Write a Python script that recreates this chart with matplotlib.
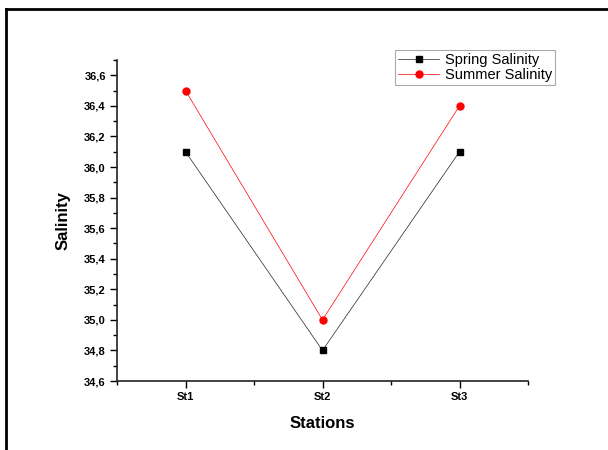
import matplotlib
matplotlib.use("Agg")
import matplotlib.pyplot as plt
from matplotlib.ticker import FuncFormatter, MultipleLocator, FixedLocator
from matplotlib.lines import Line2D

plt.rcParams['font.family'] = ['Liberation Sans', 'DejaVu Sans']

stations = ["St1", "St2", "St3"]
spring = [36.1, 34.8, 36.1]
summer = [36.5, 35.0, 36.4]

fig = plt.figure(figsize=(6.08, 4.5), dpi=100)
ax = fig.add_axes([117/608, 1-381/450, (528-117)/608, (381-60)/450])

x = list(range(1, len(stations)+1))
ax.plot(x, spring, color='#222222', lw=0.5, marker='s', ms=4.5, mfc='black', mec='black',
        label='Spring Salinity')
ax.plot(x, summer, color='#ff0000', lw=0.5, marker='o', ms=5, mfc='#ff0000', mec='#ff0000',
        label='Summer Salinity')

ax.set_xlim(0.5, 3.5)
ax.set_ylim(34.6, 36.7)
ax.set_xticks(x)
ax.set_xticklabels(stations, fontweight='bold', fontsize=8)
ax.xaxis.set_minor_locator(FixedLocator([0.5, 1.5, 2.5, 3.5]))
ax.yaxis.set_major_locator(MultipleLocator(0.2))
ax.yaxis.set_minor_locator(MultipleLocator(0.1))
ax.yaxis.set_major_formatter(FuncFormatter(lambda v, p: f"{v:.1f}".replace('.', ',')))
ax.tick_params(which='major', direction='out', length=5, width=1, pad=3)
ax.tick_params(which='minor', direction='out', length=3, width=1)
ax.tick_params(axis='y', labelsize=8)
ax.spines['top'].set_visible(False)
ax.spines['right'].set_visible(False)
for s in ['left', 'bottom']:
    ax.spines[s].set_linewidth(1.2)
    ax.spines[s].set_color('#222222')

ax.set_xlabel("Stations", fontsize=12, fontweight='bold', labelpad=10)
ax.set_ylabel("Salinity", fontsize=12, fontweight='bold', labelpad=10)

leg = ax.legend(loc='upper right', bbox_to_anchor=(555/608, 1-50/450), bbox_transform=fig.transFigure,
                fancybox=False, edgecolor='#aaaaaa', framealpha=1, fontsize=10.5,
                handlelength=2.8, borderpad=0.2, labelspacing=0.1, handletextpad=0.4, borderaxespad=0)
leg.get_frame().set_linewidth(0.8)

fig.add_artist(Line2D([6/608, 6/608], [0, 1-9/450], color='black', lw=2, transform=fig.transFigure))
fig.add_artist(Line2D([6/608, 1], [1-9/450, 1-9/450], color='black', lw=2, transform=fig.transFigure))

fig.canvas.draw()
for lab in ax.get_yticklabels():
    lab.set_fontweight('bold')

fig.savefig("out.png", dpi=100)
